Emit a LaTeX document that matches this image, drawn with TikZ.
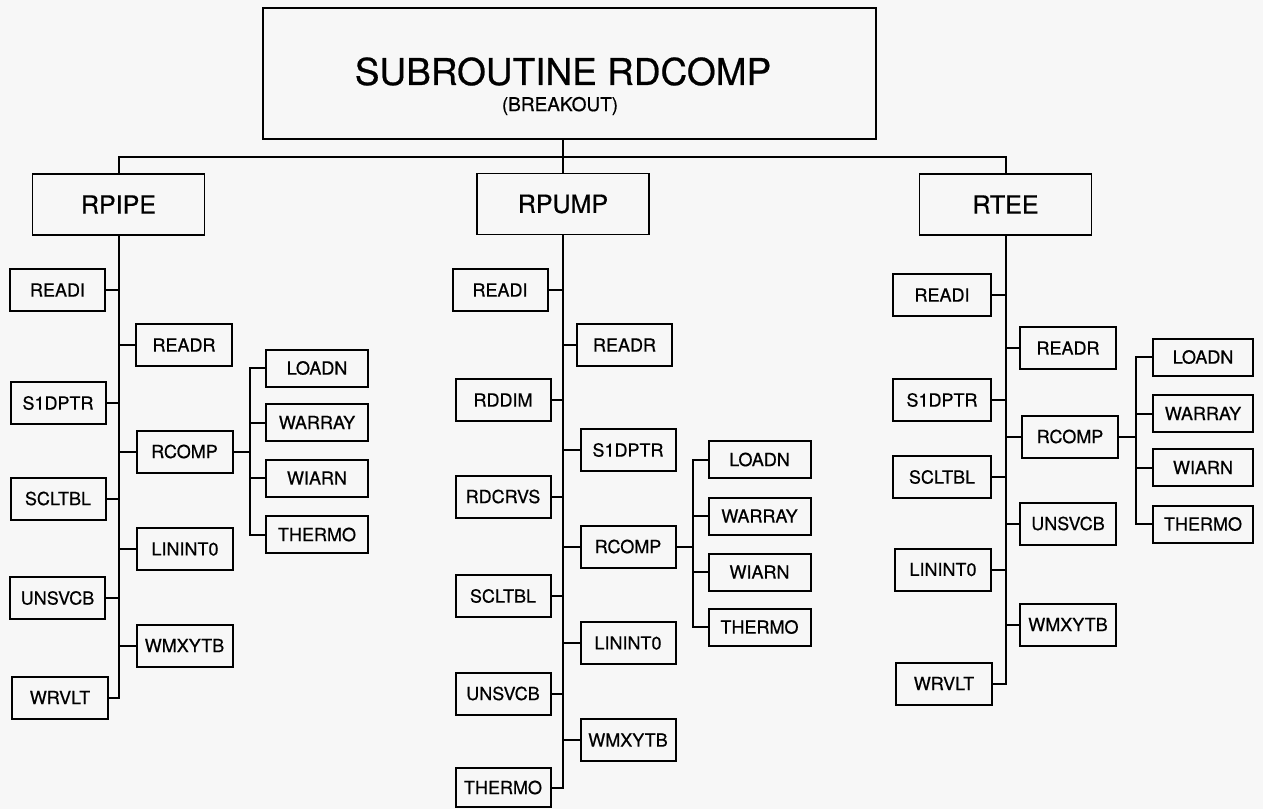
\documentclass[tikz,border=0pt]{standalone}
\usepackage{fontspec}
\setmainfont{TeX Gyre Heros}[FakeBold=0.6]
\definecolor{bg}{RGB}{247,247,247}
\begin{document}
\begin{tikzpicture}[x=1pt,y=-1pt,
  line width=2pt, line cap=rect,
  leaf/.style={draw, line width=2pt, minimum width=95pt, minimum height=42pt, inner sep=0pt, font=\fontsize{18}{20}\selectfont},
  sub/.style={leaf, minimum width=102pt, minimum height=37pt},
  top/.style={draw, line width=1.8pt, minimum width=172pt, minimum height=61pt, inner sep=0pt, font=\fontsize{25}{28}\selectfont},
  conn/.style={line width=2pt}]
\path[fill=bg] (0,0) rectangle (1263,809);

% main box
\node[draw, line width=2.6pt, minimum width=613pt, minimum height=131pt] (main) at (569.5,73.5) {};
\node[inner sep=0pt, font=\fontsize{37}{40}\selectfont] (title) at (563,71.5) {SUBROUTINE RDCOMP};
\node[inner sep=0pt, font=\fontsize{19}{22}\selectfont] (brk) at (560,106) {(BREAKOUT)};

% second level
\node[top] (rpipe) at (118.5,204.5) {RPIPE};
\node[top] (rpump) at (563,204) {RPUMP};
\node[top] (rtee) at (1005.5,204.5) {RTEE};

\coordinate (bus) at (0,157);
\draw[conn] (main.south -| rpump.north) -- (rpump.north);
\draw[conn] (rpipe.north) -- (rpipe.north |- bus) -- (rtee.north |- bus) -- (rtee.north);

% ---------- RPIPE column ----------
\node[leaf] (aREADI) at (57.5,290) {READI};
\node[leaf] (aS1DPTR) at (58,403) {S1DPTR};
\node[leaf] (aSCLTBL) at (58,498.5) {SCLTBL};
\node[leaf] (aUNSVCB) at (57.5,598) {UNSVCB};
\node[leaf, minimum width=96pt] (aWRVLT) at (60,697.5) {WRVLT};
\node[leaf, minimum width=96pt] (aREADR) at (184,345) {READR};
\node[leaf, minimum width=96pt] (aRCOMP) at (184.5,451.5) {RCOMP};
\node[leaf, minimum width=96pt] (aLININT) at (185,549) {LININT0};
\node[leaf, minimum width=96pt] (aWMXYTB) at (184.5,645.5) {WMXYTB};
\node[sub] (aLOADN) at (317,368) {LOADN};
\node[sub] (aWARRAY) at (317,422.5) {WARRAY};
\node[sub] (aWIARN) at (317,478) {WIARN};
\node[sub] (aTHERMO) at (317,534.5) {THERMO};

\draw[conn] (rpipe.south) -- (rpipe.south |- aWRVLT.east) -- (aWRVLT.east);
\foreach \n in {aREADI,aS1DPTR,aSCLTBL,aUNSVCB}
  \draw[conn] (\n.east) -- (\n.east -| rpipe.south);
\foreach \n in {aREADR,aRCOMP,aLININT,aWMXYTB}
  \draw[conn] (\n.west -| rpipe.south) -- (\n.west);
\coordinate (abus) at (250,0);
\draw[conn] (aRCOMP.east) -- (aRCOMP.east -| abus);
\draw[conn] (aLOADN.west -| abus) -- (aTHERMO.west -| abus);
\foreach \n in {aLOADN,aWARRAY,aWIARN,aTHERMO}
  \draw[conn] (\n.west -| abus) -- (\n.west);

% ---------- RPUMP column ----------
\node[leaf] (bREADI) at (500,290) {READI};
\node[leaf] (bRDDIM) at (503,400) {RDDIM};
\node[leaf] (bRDCRVS) at (503,496.5) {RDCRVS};
\node[leaf] (bSCLTBL) at (503,596) {SCLTBL};
\node[leaf] (bUNSVCB) at (503,693.5) {UNSVCB};
\node[leaf, minimum height=39pt] (bTHERMO) at (503,787.5) {THERMO};
\node[leaf] (bREADR) at (624.5,345) {READR};
\node[leaf] (bS1DPTR) at (628,450) {S1DPTR};
\node[leaf] (bRCOMP) at (628,546.5) {RCOMP};
\node[leaf] (bLININT) at (628,643) {LININT0};
\node[leaf] (bWMXYTB) at (628,740) {WMXYTB};
\node[sub] (bLOADN) at (759.5,459.5) {LOADN};
\node[sub] (bWARRAY) at (759.5,516) {WARRAY};
\node[sub] (bWIARN) at (759.5,572) {WIARN};
\node[sub] (bTHERMOs) at (759.5,627) {THERMO};

\draw[conn] (rpump.south) -- (rpump.south |- bTHERMO.east) -- (bTHERMO.east);
\foreach \n in {bREADI,bRDDIM,bRDCRVS,bSCLTBL,bUNSVCB}
  \draw[conn] (\n.east) -- (\n.east -| rpump.south);
\foreach \n in {bREADR,bS1DPTR,bRCOMP,bLININT,bWMXYTB}
  \draw[conn] (\n.west -| rpump.south) -- (\n.west);
\coordinate (bbus) at (693,0);
\draw[conn] (bRCOMP.east) -- (bRCOMP.east -| bbus);
\draw[conn] (bLOADN.west -| bbus) -- (bTHERMOs.west -| bbus);
\foreach \n in {bLOADN,bWARRAY,bWIARN,bTHERMOs}
  \draw[conn] (\n.west -| bbus) -- (\n.west);

% ---------- RTEE column ----------
\node[leaf, minimum width=98pt] (cREADI) at (942,295) {READI};
\node[leaf, minimum width=98pt] (cS1DPTR) at (942,400) {S1DPTR};
\node[leaf, minimum width=98pt] (cSCLTBL) at (942,477) {SCLTBL};
\node[leaf, minimum width=96pt] (cLININT) at (943,569.5) {LININT0};
\node[leaf, minimum width=96pt] (cWRVLT) at (944,683.5) {WRVLT};
\node[leaf, minimum width=96pt] (cREADR) at (1068,348) {READR};
\node[leaf, minimum width=96pt] (cRCOMP) at (1070,436.5) {RCOMP};
\node[leaf, minimum width=96pt] (cUNSVCB) at (1068,523.5) {UNSVCB};
\node[leaf, minimum width=96pt] (cWMXYTB) at (1068,624.5) {WMXYTB};
\node[sub, minimum width=100pt] (cLOADN) at (1203,357) {LOADN};
\node[sub, minimum width=100pt] (cWARRAY) at (1203,413.5) {WARRAY};
\node[sub, minimum width=100pt] (cWIARN) at (1203,467.5) {WIARN};
\node[sub, minimum width=100pt] (cTHERMO) at (1203,524) {THERMO};

\draw[conn] (rtee.south) -- (rtee.south |- cWRVLT.east) -- (cWRVLT.east);
\foreach \n in {cREADI,cS1DPTR,cSCLTBL,cLININT}
  \draw[conn] (\n.east) -- (\n.east -| rtee.south);
\foreach \n in {cREADR,cRCOMP,cUNSVCB,cWMXYTB}
  \draw[conn] (\n.west -| rtee.south) -- (\n.west);
\coordinate (cbus) at (1136,0);
\draw[conn] (cRCOMP.east) -- (cRCOMP.east -| cbus);
\draw[conn] (cLOADN.west -| cbus) -- (cTHERMO.west -| cbus);
\foreach \n in {cLOADN,cWARRAY,cWIARN,cTHERMO}
  \draw[conn] (\n.west -| cbus) -- (\n.west);
\end{tikzpicture}
\end{document}
